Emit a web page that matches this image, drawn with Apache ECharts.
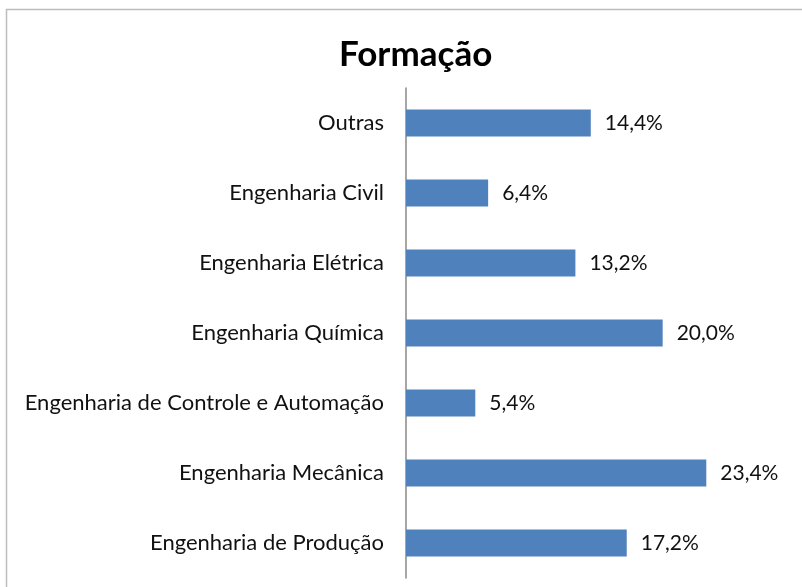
<!DOCTYPE html>
<html lang="pt">
<head>
  <meta charset="UTF-8">
  <title>Formação</title>
  <style>
    html, body { margin: 0; padding: 0; background: #fff; }
    #main { width: 802px; height: 587px; }
  </style>
</head>
<body>
<div id="main"></div>
<script src="https://cdn.jsdelivr.net/npm/echarts@6/dist/echarts.min.js"></script>
<script>
  // categorias de baixo para cima
  const categorias = [
    'Engenharia de Produção',
    'Engenharia Mecânica',
    'Engenharia de Controle e Automação',
    'Engenharia Química',
    'Engenharia Elétrica',
    'Engenharia Civil',
    'Outras'
  ];
  const valores = [17.2, 23.4, 5.4, 20.0, 13.2, 6.4, 14.4];

  const fonte = 'Lato, "Open Sans", sans-serif';
  const chart = echarts.init(document.getElementById('main'));

  chart.setOption({
    animation: false,
    graphic: [{
      type: 'rect',
      shape: { x: 6.5, y: 9.5, width: 820, height: 600 },
      style: { fill: 'none', stroke: '#bdbdbd', lineWidth: 1.5 },
      silent: true
    }],
    title: {
      text: 'Formação',
      left: 334,
      top: 32,
      textStyle: { fontFamily: fonte, fontSize: 35, fontWeight: 'bold', color: '#000' }
    },
    grid: { left: 406, right: 11, top: 88, bottom: 9 },
    xAxis: {
      type: 'value',
      min: 0,
      max: 30,
      show: false
    },
    yAxis: {
      type: 'category',
      data: categorias,
      axisLine: { lineStyle: { color: '#888', width: 1.5 } },
      axisTick: { show: false },
      axisLabel: { margin: 22, fontFamily: fonte, fontSize: 22, color: '#111' }
    },
    series: [{
      type: 'bar',
      data: valores,
      barWidth: 27,
      itemStyle: { color: '#4f81bd' },
      label: {
        show: true,
        position: 'right',
        distance: 14,
        fontFamily: fonte,
        fontSize: 21,
        color: '#111',
        formatter: p => p.value.toFixed(1).replace('.', ',') + '%'
      }
    }]
  });
</script>
</body>
</html>
